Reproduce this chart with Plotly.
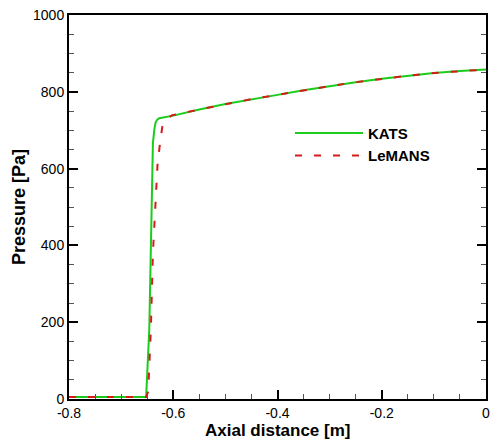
import plotly.graph_objects as go

# KATS pressure along the axis
kats_x = [-0.80, -0.70, -0.652, -0.646, -0.642, -0.639, -0.636, -0.634, -0.631, -0.627,
          -0.60, -0.55, -0.50, -0.45, -0.40, -0.35, -0.30, -0.25, -0.20, -0.15, -0.10, -0.05, 0.0]
kats_p = [5, 5, 5, 180, 518, 667, 705, 720, 727, 731,
          738, 754, 768, 781, 792, 804, 815, 825, 834, 842, 849, 854, 858]

# LeMANS pressure along the axis
lemans_x = [-0.80, -0.70, -0.652, -0.648, -0.643, -0.639, -0.635, -0.630, -0.625, -0.621,
            -0.617, -0.614, -0.608, -0.602,
            -0.55, -0.50, -0.45, -0.40, -0.35, -0.30, -0.25, -0.20, -0.15, -0.10, -0.05, 0.0]
lemans_p = [5, 5, 5, 20, 180, 380, 500, 614, 670, 709,
            720, 727, 734, 739,
            754, 768, 781, 792, 804, 815, 825, 834, 842, 849, 854, 858]

x_ticks = [-0.8, -0.6, -0.4, -0.2, 0]
x_tick_text = ["-0.8", "-0.6", "-0.4", "-0.2", "0"]
y_ticks = [0, 200, 400, 600, 800, 1000]

fig = go.Figure()
fig.add_trace(go.Scatter(x=kats_x, y=kats_p, mode="lines", name="<b>KATS</b>",
                         line=dict(color="#1ccc1c", width=2)))
fig.add_trace(go.Scatter(x=lemans_x, y=lemans_p, mode="lines", name="<b>LeMANS</b>",
                         line=dict(color="#d41c1c", width=2, dash="7px,12px")))

axis_common = dict(
    showgrid=False, zeroline=False,
    showline=True, linecolor="black", linewidth=2,
    ticks="inside", ticklen=9, tickwidth=2, tickcolor="black",
    tickfont=dict(family="Liberation Sans, Arial, sans-serif", size=14, color="black"),
)
title_font = dict(family="Liberation Sans, Arial, sans-serif", size=18, color="black")

fig.update_xaxes(
    range=[-0.8, 0], tickvals=x_ticks, ticktext=x_tick_text, mirror=True,
    minor=dict(dtick=0.05, ticks="inside", ticklen=5, tickwidth=1, tickcolor="#555"),
    **axis_common,
)
fig.update_yaxes(
    range=[0, 1000], tickvals=y_ticks, mirror="ticks",
    minor=dict(dtick=50, ticks="inside", ticklen=5, tickwidth=1, tickcolor="#555"),
    title=dict(text="<b>Pressure [Pa]</b>", standoff=3, font=title_font),
    **axis_common,
)

# x-axis title placed just under the tick labels
fig.add_annotation(text="<b>Axial distance [m]</b>", xref="paper", yref="paper",
                   x=0.5, y=0, yshift=-31, yanchor="middle", showarrow=False,
                   font=dict(family="Liberation Sans, Arial, sans-serif", size=17, color="black"))

fig.update_layout(
    width=495, height=441,
    margin=dict(l=69, r=5, t=15, b=42),
    paper_bgcolor="white", plot_bgcolor="white",
    legend=dict(x=0.53, y=0.735, xanchor="left", yanchor="top",
                bgcolor="rgba(0,0,0,0)", itemwidth=68,
                font=dict(family="Liberation Sans, Arial, sans-serif", size=15, color="black"),
                tracegroupgap=0),
    showlegend=True,
)

fig.write_html("out.html")
